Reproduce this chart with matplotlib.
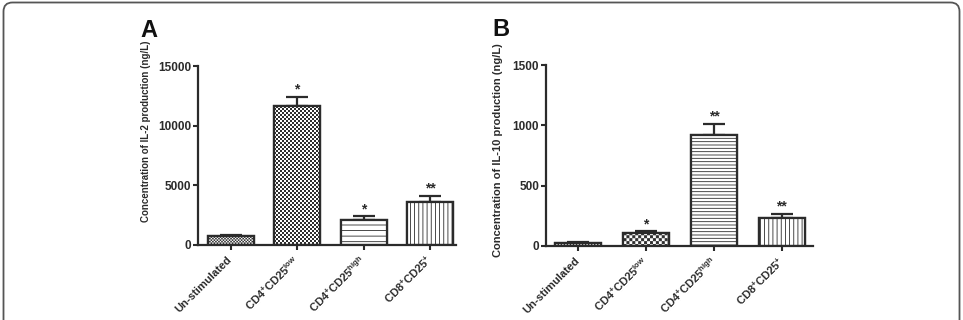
import warnings
import numpy as np
import matplotlib
matplotlib.use("Agg")
import matplotlib.pyplot as plt
from matplotlib import hatch as mhatch
from matplotlib.path import Path
from matplotlib.patches import FancyBboxPatch
from matplotlib.transforms import IdentityTransform

warnings.filterwarnings("ignore")

# ---------------- data ----------------
categories = ["Un-stimulated",
              r"CD4$^{+}$CD25$^{low}$",
              r"CD4$^{+}$CD25$^{high}$",
              r"CD8$^{+}$CD25$^{+}$"]
il2_mean = [700, 11700, 2080, 3600]
il2_err = [140, 740, 290, 520]
il2_sig = ["", "*", "*", "**"]
il2_ticks = [0, 5000, 10000, 15000]

il10_mean = [27, 108, 922, 229]
il10_err = [6, 14, 90, 38]
il10_sig = ["", "*", "**", "**"]
il10_ticks = [0, 500, 1000, 1500]

# ---------------- style ----------------
plt.rcParams['font.family'] = ['Liberation Sans', 'DejaVu Sans']
plt.rcParams['font.weight'] = 'bold'
plt.rcParams['mathtext.fontset'] = 'custom'
plt.rcParams['mathtext.rm'] = 'Liberation Sans:bold'
plt.rcParams['mathtext.bf'] = 'Liberation Sans:bold'
plt.rcParams['mathtext.it'] = 'Liberation Sans:bold'
plt.rcParams['mathtext.default'] = 'bf'
HATCH_LW = 0.6
plt.rcParams['hatch.linewidth'] = HATCH_LW

DARK = '#2b2b2b'


class CheckerHatch(mhatch.HatchPatternBase):
    """Checkerboard hatch: 'c' repeated k times -> 2k cells per tile side."""

    def __init__(self, hatch, density):
        n = 2 * hatch.count('c')
        self.n = n
        self.num_vertices = (n * n // 2) * 5 if n else 0

    def set_vertices_and_codes(self, vertices, codes):
        n = self.n
        s = 1.0 / n
        inset = HATCH_LW / 2.0 / 72.0
        verts = []
        for i in range(n):
            for j in range(n):
                if (i + j) % 2 == 0:
                    x0, y0 = i * s + inset, j * s + inset
                    x1, y1 = (i + 1) * s - inset, (j + 1) * s - inset
                    verts += [[x0, y0], [x1, y0], [x1, y1], [x0, y1], [x0, y0]]
        vertices[:] = np.array(verts)
        codes[:] = np.array([Path.MOVETO, Path.LINETO, Path.LINETO,
                             Path.LINETO, Path.CLOSEPOLY] * (n * n // 2))


mhatch._hatch_types.append(CheckerHatch)

fig = plt.figure(figsize=(9.63, 3.2), dpi=100)


def panel(rect, means, errs, sigs, ticks, hatches, ylabel, label_xy,
          xlim, width, letter, letter_xy, ylabel_size):
    ax = fig.add_axes(rect)
    x = np.arange(len(categories))
    ax.bar(x, means, width=width, color='white', edgecolor=DARK,
           linewidth=1.6, hatch=None, zorder=2)
    for xi, m, h in zip(x, means, hatches):
        ax.bar(xi, m, width=width, color='white', edgecolor=DARK,
               linewidth=1.6, hatch=h, zorder=2)
    ax.errorbar(x, means, yerr=[np.zeros(len(errs)), errs], fmt='none',
                ecolor=DARK, elinewidth=1.6, capsize=8, capthick=1.6,
                zorder=1)
    for xi, m, e, s in zip(x, means, errs, sigs):
        if s:
            ax.annotate(s, (xi, m + e), xytext=(0, 0),
                        textcoords='offset points', ha='center',
                        va='bottom', fontsize=10, fontweight='bold',
                        color=DARK)
    ax.set_xlim(*xlim)
    ax.set_ylim(0, ticks[-1])
    ax.set_yticks(ticks)
    ax.set_xticks(x)
    ax.set_xticklabels(categories, rotation=45, ha='right', va='center',
                       rotation_mode='anchor', fontsize=8, fontweight='bold',
                       color=DARK)
    ax.tick_params(axis='y', labelsize=8.5, length=3.5, width=1.5,
                   pad=1.5, colors=DARK)
    ax.tick_params(axis='x', length=3.5, width=1.5, pad=6, colors=DARK)
    for sp in ['top', 'right']:
        ax.spines[sp].set_visible(False)
    for sp in ['left', 'bottom']:
        ax.spines[sp].set_linewidth(1.6)
        ax.spines[sp].set_color(DARK)
    ax.set_ylabel(ylabel, fontsize=ylabel_size, fontweight='bold', color=DARK)
    ax.yaxis.set_label_coords(*label_xy)
    fig.text(letter_xy[0], letter_xy[1], letter, fontsize=17,
             fontweight='bold', color='#111111', va='baseline')
    return ax


panel([198 / 963, 75.5 / 320, 258 / 963, 178 / 320],
      il2_mean, il2_err, il2_sig, il2_ticks,
      ['c' * 33, 'c' * 25, '---', '||||'],
      'Concentration of IL-2 production (ng/L)', (-0.182, 0.635),
      (-0.49, 3.39), 0.69, 'A', (140 / 963, 1 - 37 / 320), 7)

panel([546 / 963, 74 / 320, 267 / 963, 181 / 320],
      il10_mean, il10_err, il10_sig, il10_ticks,
      ['c' * 33, 'c' * 17, '-----', '||||'],
      'Concentration of IL-10 production (ng/L)', (-0.161, 0.53),
      (-0.476, 3.46), 0.68, 'B', (492 / 963, 1 - 36 / 320), 8)

# rounded outer frame (top and sides visible)
frame = FancyBboxPatch((3.5, -20), 956, 337 - 0.5 + 20 - 20 + 0,
                       boxstyle='round,pad=0,rounding_size=9',
                       transform=IdentityTransform(), fill=False,
                       edgecolor='#555555', linewidth=1.3)
frame.set_bounds(3.5, -20, 956, 317.5 - 0 + 20 - 0)
fig.patches.append(frame)

fig.savefig('out.png', dpi=100)
